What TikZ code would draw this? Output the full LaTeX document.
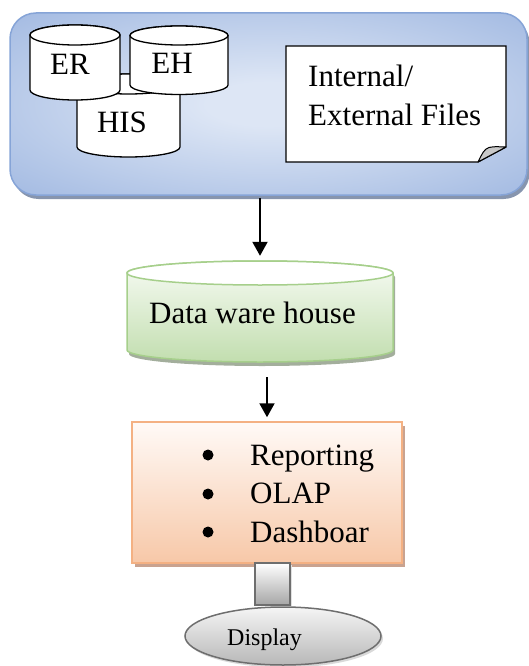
\documentclass[tikz,border=0pt]{standalone}
\usepackage{fontspec}
\setmainfont{Liberation Serif}
\usetikzlibrary{arrows.meta,shapes.geometric}
\definecolor{blueIn}{HTML}{DDE6F5}
\definecolor{blueOut}{HTML}{8BA8DA}
\definecolor{blueBorder}{HTML}{86A4D7}
\definecolor{blueShadow}{HTML}{8795AE}
\definecolor{greenTop}{HTML}{F7FBF4}
\definecolor{greenBot}{HTML}{C2DEAF}
\definecolor{greenBorder}{HTML}{A6CF8B}
\definecolor{greenShadow}{HTML}{A3AE9C}
\definecolor{orTop}{HTML}{FFFAF7}
\definecolor{orBot}{HTML}{F7C8A8}
\definecolor{orBorder}{HTML}{F4B183}
\definecolor{orShadow}{HTML}{C9A390}
\definecolor{grBorder}{HTML}{6E6E6E}
\definecolor{foldGray}{HTML}{C8C8C8}
\pgfdeclareradialshading{bluebox}{\pgfpoint{0bp}{0bp}}{color(0bp)=(blueIn); color(6bp)=(blueIn); color(48bp)=(blueOut); color(75bp)=(blueOut)}
% #1 options, #2 L, #3 R, #4 T, #5 B, #6 ry
\newcommand\cylbody[6]{%
  \path[#1] (#2,#4-#6) -- (#2,#5)
    arc[start angle=180,end angle=360,x radius={(#3-#2)/2},y radius=#6]
    -- (#3,#4-#6)
    arc[start angle=0,end angle=180,x radius={(#3-#2)/2},y radius=#6] -- cycle;}
\newcommand\cyltop[6]{%
  \path[#1] ({(#2+#3)/2},#4-#6) ellipse[x radius={(#3-#2)/2},y radius=#6];}
\tikzset{
  maintext/.style={font=\fontsize{31}{37}\selectfont, inner sep=0pt},
  arr/.style={line width=2pt, -{Triangle[length=14pt,width=15pt]}},
  dbline/.style={draw=black, line width=1.3pt, fill=white},
  bulletdot/.style={circle, fill=black, minimum size=11pt, inner sep=0pt},
}
\begin{document}
\begin{tikzpicture}[x=1pt,y=1pt]
\useasboundingbox (0,0) rectangle (528,-666);
% ---- source box ----
\fill[blueShadow] (12.5,-17) [rounded corners=26pt] rectangle (529.5,-199);
\node[draw=blueBorder, line width=1.5pt, rounded corners=26pt, shading=bluebox,
  minimum width=517pt, minimum height=182pt, inner sep=0pt] (src) at (268.5,-104) {};
% ---- databases ----
\cylbody{dbline}{77}{180}{-74}{-147}{10}
\cyltop{dbline}{77}{180}{-74}{-147}{10}
\cylbody{dbline}{30}{120}{-25}{-90}{10}
\cyltop{dbline}{30}{120}{-25}{-90}{10}
\cylbody{dbline}{130}{228}{-26}{-85}{9.5}
\cyltop{dbline}{130}{228}{-26}{-85}{9.5}
\node[maintext, anchor=base] (his) at (122,-132) {HIS};
\node[maintext, anchor=base] (er) at (70,-75) {ER};
\node[maintext, anchor=base] (eh) at (172,-74) {EH};
% ---- file note ----
\filldraw[fill=white, draw=black, line width=1.3pt]
  (286,-46) -- (506,-46) -- (506,-147) -- (478,-162) -- (286,-162) -- cycle;
\filldraw[fill=foldGray, draw=black, line width=1pt, line join=round]
  (478,-162) .. controls (482,-154) and (484,-149) .. (489,-147.5)
  .. controls (495,-146) and (500,-147) .. (506,-147) -- cycle;
\node[maintext, anchor=base west] (int) at (308,-87) {Internal/};
\node[maintext, anchor=base west] (ext) at (308,-125) {External Files};
% ---- data warehouse ----
\cylbody{fill=greenShadow, xshift=2pt, yshift=-4pt}{127}{393}{-261}{-350}{12}
\cylbody{draw=greenBorder, line width=1.5pt, top color=greenTop, bottom color=greenBot}{127}{393}{-261}{-350}{12}
\cyltop{draw=greenBorder, line width=1.5pt, fill=white}{127}{393}{-261}{-350}{12}
\node[minimum width=266pt, minimum height=101pt, inner sep=0pt] (dw) at (260,-311.5) {};
\node[maintext, anchor=base west] (dwt) at (149,-323) {Data ware house};
% ---- tools box ----
\fill[orShadow] (135,-426) rectangle (405,-567);
\node[draw=orBorder, line width=1.5pt, top color=orTop, bottom color=orBot,
  minimum width=270pt, minimum height=141pt, inner sep=0pt] (tools) at (267,-492.5) {};
\node[bulletdot] (b1) at (208,-455) {};
\node[bulletdot] (b2) at (208,-494) {};
\node[bulletdot] (b3) at (208,-532) {};
\node[maintext, anchor=base west] (t1) at (250,-465) {Reporting};
\node[maintext, anchor=base west] (t2) at (250,-503) {OLAP};
\node[maintext, anchor=base west] (t3) at (250,-542) {Dashboar};
% ---- stem and display ----
\fill[black!12] (257,-565) rectangle (292,-606);
\node[draw=grBorder, line width=2pt, top color=white, bottom color=black!35,
  minimum width=35pt, minimum height=42pt, inner sep=0pt] (stem) at (272.5,-584) {};
\fill[black!15] (285,-638.5) ellipse[x radius=98, y radius=29];
\node[ellipse, draw=grBorder, line width=1.5pt, top color=black!4, bottom color=black!28,
  minimum width=196pt, minimum height=58pt, inner sep=0pt] (disp) at (283,-636) {};
\node[font=\fontsize{24}{28}\selectfont, inner sep=0pt, anchor=base west] (dispt) at (227,-645) {Display};
% ---- arrows ----
\draw[arr] ([yshift=-2pt]src.south -| dw.north) -- ([yshift=5pt]dw.north);
\draw[arr] ([yshift=-15pt]dw.south -| tools.north) -- ([yshift=4pt]tools.north);
\end{tikzpicture}
\end{document}
